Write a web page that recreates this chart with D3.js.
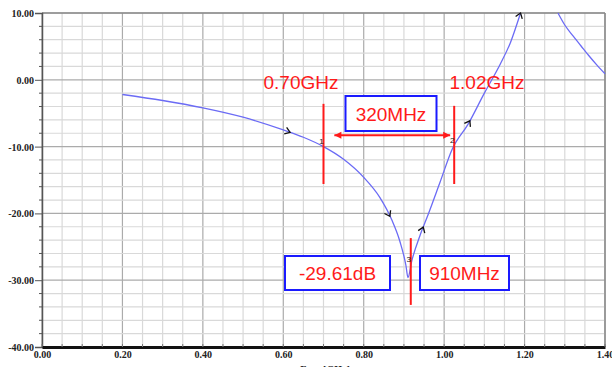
<!DOCTYPE html>
<html>
<head>
<meta charset="utf-8">
<script src="https://cdn.jsdelivr.net/npm/d3@7"></script>
<style>
  body { margin: 0; background: #fff; }
  svg { display: block; }
  .tick text { font-family: "Liberation Serif", serif; font-weight: bold; font-size: 10px; fill: #222; }
  .mk { font-family: "Liberation Sans", Arial, sans-serif; fill: #ff1a1a; font-size: 19px; }
</style>
</head>
<body>
<div id="root"></div>
<script>
// Data
const freqs = [0.20, 0.30, 0.40, 0.50, 0.60, 0.65, 0.70, 0.75, 0.80, 0.84, 0.87, 0.89, 0.905, 0.91,
  0.92, 0.94, 0.96, 0.99, 1.02, 1.06, 1.10, 1.14, 1.165, 1.19, 1.24, 1.283, 1.30, 1.32, 1.34, 1.36, 1.38, 1.40];
const s11 = [-2.2, -3.1, -4.2, -5.6, -7.5, -8.6, -10.0, -11.9, -14.6, -17.6, -21.0, -24.2, -27.8, -29.6,
  -27.0, -23.3, -20.2, -15.3, -10.4, -6.6, -2.0, 2.4, 5.6, 10.0, null, 10.0, 8.2, 6.6, 5.1, 3.6, 2.2, 0.9];
const arrowFreqs = [0.617, 0.865, 0.948, 1.064, 1.19];
const xTicks = [0.00, 0.20, 0.40, 0.60, 0.80, 1.00, 1.20, 1.40];
const yTicks = [10, 0, -10, -20, -30, -40];
const markers = [
  {id: '1', f: 0.70, top: -3.6, bottom: -15.6},
  {id: '2', f: 1.025, top: -3.9, bottom: -15.6},
  {id: '3', f: 0.917, top: -23.7, bottom: -33.7}
];

const width = 612;
const height = 367;
const x = d3.scaleLinear().domain([0, 1.4]).range([42, 605]);
const y = d3.scaleLinear().domain([-40, 10]).range([347, 13]);

const svg = d3.select('#root').append('svg')
  .attr('width', width)
  .attr('height', height);

// Grid
const minorX = d3.range(0, 1.4001, 0.05);
const minorY = d3.range(-40, 10.001, 2);
svg.append('g').selectAll('line')
  .data(minorX)
  .enter().append('line')
    .attr('x1', d => x(d)).attr('x2', d => x(d))
    .attr('y1', y(10)).attr('y2', y(-40))
    .attr('stroke', d => Math.abs(d / 0.2 - Math.round(d / 0.2)) < 1e-6 ? '#ababab' : '#d9d9d9')
    .attr('stroke-width', 1.2);
svg.append('g').selectAll('line')
  .data(minorY)
  .enter().append('line')
    .attr('x1', x(0)).attr('x2', x(1.4))
    .attr('y1', d => y(d)).attr('y2', d => y(d))
    .attr('stroke', d => d % 10 === 0 ? '#ababab' : '#d9d9d9')
    .attr('stroke-width', 1.2);

// Frame
svg.append('line').attr('x1', x(0)).attr('x2', x(1.4)).attr('y1', y(10)).attr('y2', y(10))
  .attr('stroke', '#8a8a8a').attr('stroke-width', 1.5);
svg.append('line').attr('x1', x(1.4)).attr('x2', x(1.4)).attr('y1', y(10)).attr('y2', y(-40))
  .attr('stroke', '#8a8a8a').attr('stroke-width', 1.5);

// Axes
const yAxis = svg.append('g')
  .attr('transform', `translate(${x(0)},0)`)
  .call(d3.axisLeft(y).tickValues(yTicks).tickSize(7).tickPadding(1).tickFormat(d => d.toFixed(2)));
yAxis.select('.domain').attr('stroke', '#555').attr('stroke-width', 1.5);
yAxis.selectAll('.tick line').attr('stroke', '#555');
yAxis.selectAll('.tick text').attr('dy', '0.35em');
svg.append('g').selectAll('line')
  .data(minorY.filter(d => d % 10 !== 0))
  .enter().append('line')
    .attr('x1', x(0) - 3).attr('x2', x(0))
    .attr('y1', d => y(d)).attr('y2', d => y(d))
    .attr('stroke', '#555');

const xAxis = svg.append('g')
  .attr('transform', `translate(0,${y(-40)})`)
  .call(d3.axisBottom(x).tickValues(xTicks).tickSize(0).tickPadding(4).tickFormat(d => d.toFixed(2)));
xAxis.select('.domain').attr('stroke', '#111').attr('stroke-width', 3);
svg.append('g').selectAll('line')
  .data(minorX)
  .enter().append('line')
    .attr('x1', d => x(d)).attr('x2', d => x(d))
    .attr('y1', y(-40) - 3).attr('y2', y(-40))
    .attr('stroke', '#777');

svg.append('text')
  .attr('x', 325).attr('y', 373)
  .attr('text-anchor', 'middle')
  .style('font-family', '"Liberation Serif", serif')
  .style('font-weight', 'bold')
  .style('font-size', '10px')
  .attr('fill', '#222')
  .text('Freq [GHz]');

// Curve
const pts = freqs.map((f, i) => ({f, v: s11[i]}));
const line = d3.line()
  .defined(d => d.v !== null)
  .x(d => x(d.f))
  .y(d => y(d.v))
  .curve(d3.curveMonotoneX);

svg.append('path')
  .datum(pts)
  .attr('d', line)
  .attr('fill', 'none')
  .attr('stroke', '#6b6bf5')
  .attr('stroke-width', 1.3);

// Direction arrows along the curve
const valid = pts.filter(d => d.v !== null);
function valueAt(f) {
  for (let i = 1; i < valid.length; i++) {
    if (f <= valid[i].f) {
      const a = valid[i - 1], b = valid[i];
      return a.v + (b.v - a.v) * (f - a.f) / (b.f - a.f);
    }
  }
  return valid[valid.length - 1].v;
}
arrowFreqs.forEach(f => {
  const px = x(f), py = y(valueAt(f));
  const qx = x(f - 0.01), qy = y(valueAt(f - 0.01));
  const ang = Math.atan2(py - qy, px - qx) * 180 / Math.PI;
  svg.append('path')
    .attr('d', 'M-5,-3.5L0,0L-5,3.5')
    .attr('transform', `translate(${px},${py}) rotate(${ang})`)
    .attr('fill', 'none')
    .attr('stroke', '#111')
    .attr('stroke-width', 1.3);
});

// Markers
const mk = svg.append('g');
mk.selectAll('line.m')
  .data(markers)
  .enter().append('line')
    .attr('x1', d => x(d.f)).attr('x2', d => x(d.f))
    .attr('y1', d => y(d.top)).attr('y2', d => y(d.bottom))
    .attr('stroke', '#ff1a1a')
    .attr('stroke-width', 2);
mk.selectAll('text.n')
  .data(markers)
  .enter().append('text')
    .attr('x', d => x(d.f) - 2)
    .attr('y', d => y(valueAt(d.f)) - 3)
    .attr('text-anchor', 'middle')
    .style('font-family', '"Liberation Sans", sans-serif')
    .style('font-size', '8px')
    .attr('fill', '#222')
    .text(d => d.id);

// Bandwidth double arrow
const bwY = y(-8.3);
const x1 = x(0.727), x2 = x(1.015);
mk.append('line').attr('x1', x1).attr('x2', x2).attr('y1', bwY).attr('y2', bwY)
  .attr('stroke', '#ff1a1a').attr('stroke-width', 2);
mk.append('path').attr('d', `M${x1},${bwY}l7,-3.5v7z`).attr('fill', '#ff1a1a');
mk.append('path').attr('d', `M${x2},${bwY}l-7,-3.5v7z`).attr('fill', '#ff1a1a');

// Labels
function boxLabel(cx, cy, w, h, txt) {
  mk.append('rect')
    .attr('x', cx - w / 2).attr('y', cy - h / 2)
    .attr('width', w).attr('height', h)
    .attr('fill', '#fff')
    .attr('stroke', '#1a1aff')
    .attr('stroke-width', 2);
  mk.append('text')
    .attr('class', 'mk')
    .attr('x', cx).attr('y', cy + 7)
    .attr('text-anchor', 'middle')
    .text(txt);
}
boxLabel(391, 113.5, 91, 35, '320MHz');
boxLabel(337.5, 273, 105, 34, '-29.61dB');
boxLabel(464.5, 273, 89, 34, '910MHz');

mk.append('text').attr('class', 'mk').attr('x', 301).attr('y', 89).attr('text-anchor', 'middle').text('0.70GHz');
mk.append('text').attr('class', 'mk').attr('x', 487).attr('y', 89).attr('text-anchor', 'middle').text('1.02GHz');
</script>
</body>
</html>
